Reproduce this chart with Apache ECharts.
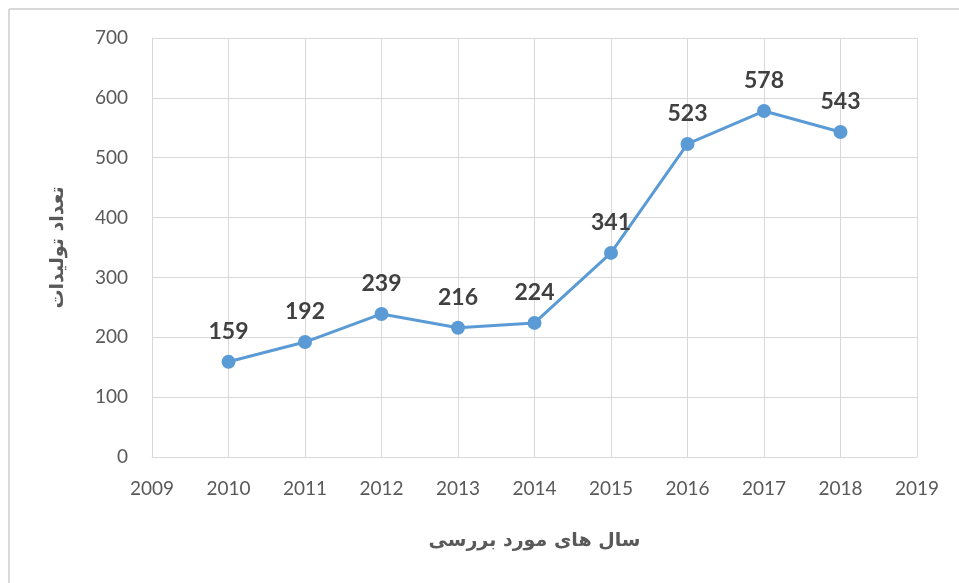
<!DOCTYPE html>
<html>
<head>
<meta charset="utf-8">
<script src="https://cdn.jsdelivr.net/npm/echarts@6/dist/echarts.min.js"></script>
<style>
html,body{margin:0;padding:0;background:#fff;}
#chart{width:959px;height:583px;}
</style>
</head>
<body>
<div id="chart"></div>
<script>
var years = [2010, 2011, 2012, 2013, 2014, 2015, 2016, 2017, 2018];
var values = [159, 192, 239, 216, 224, 341, 523, 578, 543];
var xTitle = 'سال های مورد بررسی';
var yTitle = 'تعداد تولیدات';

var chart = echarts.init(document.getElementById('chart'));
var font = 'Lato, "Open Sans", "DejaVu Sans", sans-serif';
chart.setOption({
  animation: false,
  backgroundColor: '#fff',
  graphic: [
    { type: 'line', shape: { x1: 9, y1: 9, x2: 959, y2: 9 }, style: { stroke: '#d9d9d9', lineWidth: 2 } },
    { type: 'line', shape: { x1: 9, y1: 9, x2: 9, y2: 583 }, style: { stroke: '#d9d9d9', lineWidth: 2 } }
  ],
  grid: { left: 152, right: 42, top: 38, bottom: 126 },
  xAxis: {
    type: 'value', min: 2009, max: 2019, interval: 1,
    name: xTitle, nameLocation: 'middle', nameGap: 75,
    nameTextStyle: { fontSize: 19, fontWeight: 'bold', color: '#595959', fontFamily: '"DejaVu Sans", sans-serif' },
    axisLine: { show: true, lineStyle: { color: '#d9d9d9', width: 1 } },
    axisTick: { show: false },
    axisLabel: { color: '#595959', fontSize: 19, margin: 22, fontFamily: font, formatter: function(v){ return String(v); } },
    splitLine: { show: true, lineStyle: { color: '#d9d9d9', width: 1 } }
  },
  yAxis: {
    type: 'value', min: 0, max: 700, interval: 100,
    name: yTitle, nameLocation: 'middle', nameGap: 84,
    nameTextStyle: { fontSize: 19, fontWeight: 'bold', color: '#595959', fontFamily: '"DejaVu Sans", sans-serif' },
    axisLine: { show: true, lineStyle: { color: '#d9d9d9', width: 1 } },
    axisTick: { show: false },
    axisLabel: { color: '#595959', fontSize: 19, margin: 24, fontFamily: font },
    splitLine: { show: true, lineStyle: { color: '#d9d9d9', width: 1 } }
  },
  series: [{
    type: 'line',
    data: years.map(function(y, i){ return [y, values[i]]; }),
    symbol: 'circle', symbolSize: 14,
    lineStyle: { color: '#5b9bd5', width: 3 },
    itemStyle: { color: '#5b9bd5' },
    label: { show: true, position: 'top', distance: 12, color: '#404040', fontSize: 23, fontWeight: 'bold', fontFamily: font,
      formatter: function(p){ return p.value[1]; } }
  }]
});
</script>
</body>
</html>
